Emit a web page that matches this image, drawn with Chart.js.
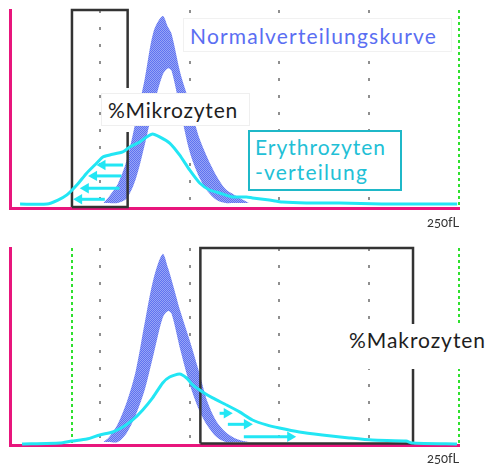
<!DOCTYPE html>
<html lang="de">
<head>
<meta charset="utf-8">
<title>Erythrozytenverteilung</title>
<script src="https://cdn.jsdelivr.net/npm/chart.js@4.4.1/dist/chart.umd.min.js"></script>
<style>
  body { margin: 0; background: #fff; font-family: 'Lato', 'Open Sans', sans-serif; }
  #wrap { position: relative; width: 487px; height: 466px; overflow: hidden; }
  canvas { position: absolute; left: 0; }
  #topChart { top: 0; }
  #bottomChart { top: 233px; }
  .box { position: absolute; background: #fff; box-sizing: border-box; white-space: nowrap; font-size: 21px; }
  .box span { display: inline-block; }
  .norm { left: 183px; top: 18px; width: 269px; height: 34px; border: 1px solid #f1f1f1; color: #5a6ef2; padding-left: 6px; line-height: 33px; }
  .mikro { left: 101px; top: 93px; width: 149px; height: 33px; border: 1px solid #efefef; color: #1e1e1e; padding-left: 6px; line-height: 31px; }
  .gap { left: 125px; top: 88px; width: 6px; height: 44px; }
  .ery { left: 248px; top: 130px; width: 154px; height: 61px; border: 2px solid #1fb8c8; color: #22c0d6; padding: 2px 0 0 5px; line-height: 25px; }
  .makro { left: 345px; top: 324px; width: 142px; height: 45px; color: #1e1e1e; padding-left: 4px; line-height: 32px; }
  .unit { position: absolute; font-size: 13px; color: #333; line-height: 15px; font-variant-numeric: oldstyle-nums; }
</style>
</head>
<body>
<div id="wrap">
  <canvas id="topChart" width="487" height="233"></canvas>
  <canvas id="bottomChart" width="487" height="233"></canvas>

  <div class="box norm"><span data-fit="247">Normalverteilungskurve</span></div>
  <div class="box gap"></div>
  <div class="box mikro"><span data-fit="130">%Mikrozyten</span></div>
  <div class="box ery"><span data-fit="131">Erythrozyten</span><br><span data-fit="113">-verteilung</span></div>
  <div class="unit" style="left:427px; top:215px;">250fL</div>

  <div class="box makro"><span data-fit="137">%Makrozyten</span></div>
  <div class="unit" style="left:427px; top:451px;">250fL</div>
</div>
<script>
// x axis in fL (0-250), y axis relative frequency (0-100)
const gridFl = [50, 100, 150, 200];
const topLimitFl = [250];
const bottomLimitFl = [34.5, 250];

// reference band (normal distribution range)
const bandFl = [52, 55, 60, 65, 70, 75, 80, 85, 88, 90, 95, 100, 105, 110, 115, 120, 125, 130, 133];
const topBandUpper = [2.5, 5.6, 12.1, 24.2, 44, 65.2, 89.4, 97, 91.4, 87.9, 67.7, 53, 36.4, 25.3, 16.2, 9.6, 6.6, 4, 2.5];
const topBandLower = [2.5, 2.5, 2.5, 4.8, 14.5, 31.8, 51.5, 67.2, 70.6, 69.2, 48.5, 28.5, 16.2, 8.4, 4, 2.5, 2.5, 2.5, 2.5];
const bottomBandUpper = [1.5, 3.8, 10.7, 21.8, 37.6, 62, 84.8, 97, 89.8, 83.8, 67.5, 53.3, 38, 21.8, 11.9, 6.6, 3.6, 2, 1.5];
const bottomBandLower = [1.5, 1.5, 1.5, 6.1, 15.2, 27.9, 46.2, 64.5, 68, 66.5, 47.7, 31, 18.3, 9.6, 4, 1.5, 1.5, 1.5, 1.5];

// measured erythrocyte distribution
const topCurveFl = [5.6, 20.6, 26.7, 31.7, 37.2, 42.8, 48.3, 51.7, 55.6, 62.8, 66.7, 72.2, 76.1, 79.4, 83.3, 88.9, 94.4, 100, 105.6, 111.1, 116.7, 123.9, 131.7, 135, 144.4, 151.7, 165, 183.3, 207, 249];
const topCurveCount = [2, 2, 4, 6.6, 11.6, 17.7, 22.7, 25.8, 26.8, 28.3, 30.8, 33.3, 35.9, 37.4, 35.9, 32.8, 26.8, 19.2, 12.6, 9.1, 7.6, 5.6, 5.6, 5.1, 4, 3, 2.5, 2.5, 2, 2];
const bottomCurveFl = [6.7, 27.8, 34.4, 42.8, 50, 57.2, 62.8, 68.3, 73.9, 79.4, 85, 88.9, 94.4, 98.3, 101.7, 107.2, 112.8, 120.6, 127.8, 135, 142.8, 150, 161.1, 173.9, 188.9, 201.7, 220.6, 223.9, 248.9];
const bottomCurveCount = [0.5, 1, 2, 3, 5.1, 6.6, 9.1, 12.7, 17.8, 23.9, 31.5, 34.5, 36, 34, 30.5, 26.9, 23.9, 20.3, 16.8, 12.7, 10.2, 8.6, 6.6, 5.1, 3.6, 2.5, 2, 1, 0.5];

// gates
const microGateFl = [34.5, 65.5];
const macroGateFl = [106, 224.4];
const gateTop = 100;
const microGateBase = 0.5;
const macroGateBase = 0.8;

// arrows
const microArrowTail = [63, 62, 61, 52.8];
const microArrowHead = [51.5, 46.8, 42.2, 38.5];
const microArrowLevel = [21.7, 16.2, 10, 4.4];
const macroArrowTail = [116.7, 121.3, 130.2];
const macroArrowHead = [120.7, 131.9, 156];
const macroArrowLevel = [16.1, 10.5, 4.2];

const PINK = '#e8157c';
const CYAN = '#22e6f4';
const GREEN = '#2fe02f';
const GRID = '#8f8f8f';

function pairs(xs, ys) {
    return xs.map((x, i) => ({ x: x, y: ys[i] }));
}

function makeHatch() {
    const c = document.createElement('canvas');
    c.width = 2;
    c.height = 2;
    const g = c.getContext('2d');
    g.fillStyle = '#97a4f6';
    g.fillRect(0, 0, 2, 2);
    g.fillStyle = '#5f73f0';
    g.fillRect(0, 0, 1, 1);
    g.fillRect(1, 1, 1, 1);
    return g.createPattern(c, 'repeat');
}

function arrowSets(tails, heads, levels, rotation) {
    return tails.map((t, i) => ({
        data: [{ x: t, y: levels[i] }, { x: heads[i], y: levels[i] }],
        showLine: true,
        borderColor: CYAN,
        borderWidth: 3,
        pointRadius: [0, 6],
        pointStyle: 'triangle',
        pointRotation: rotation,
        pointBackgroundColor: CYAN,
        pointBorderWidth: 0,
        clip: false,
    }));
}

function gateSet(gate, base) {
    return {
        data: [
            { x: gate[0], y: base }, { x: gate[0], y: gateTop },
            { x: gate[1], y: gateTop }, { x: gate[1], y: base }, { x: gate[0], y: base },
        ],
        showLine: true,
        borderColor: '#333333',
        borderWidth: 2.5,
        pointRadius: 0,
        clip: false,
    };
}

function buildPanel(id, cfg) {
    const datasets = [
        {
            data: pairs(cfg.curveFl, cfg.curveCount),
            showLine: true,
            borderColor: CYAN,
            borderWidth: 3,
            pointRadius: 0,
            tension: 0.2,
            clip: false,
        },
        ...arrowSets(cfg.arrowTail, cfg.arrowHead, cfg.arrowLevel, cfg.arrowRotation),
        gateSet(cfg.gate, cfg.gateBase),
        {
            data: pairs(bandFl, cfg.bandLower),
            showLine: true,
            borderColor: 'rgba(0,0,0,0)',
            borderWidth: 1,
            pointRadius: 0,
            tension: 0.3,
        },
        {
            data: pairs(bandFl, cfg.bandUpper),
            showLine: true,
            borderColor: 'rgba(0,0,0,0)',
            borderWidth: 1,
            pointRadius: 0,
            tension: 0.3,
            fill: '-1',
            backgroundColor: makeHatch(),
        },
    ];

    return new Chart(document.getElementById(id), {
        type: 'scatter',
        data: { datasets: datasets },
        options: {
            responsive: false,
            animation: false,
            events: [],
            layout: { autoPadding: false, padding: cfg.padding },
            plugins: { legend: { display: false }, tooltip: { enabled: false } },
            scales: {
                x: {
                    type: 'linear', min: 0, max: 250,
                    ticks: { display: false },
                    grid: { color: GRID, lineWidth: 2, drawTicks: false },
                    border: { display: true, color: PINK, width: 3, dash: [3, 14] },
                    afterBuildTicks: (axis) => { axis.ticks = gridFl.map((v) => ({ value: v })); },
                },
                x2: {
                    type: 'linear', axis: 'x', position: 'bottom', min: 0, max: 250,
                    ticks: { display: false },
                    grid: { color: GREEN, lineWidth: 2, drawTicks: false },
                    border: { display: false, dash: [3, 3] },
                    afterBuildTicks: (axis) => { axis.ticks = cfg.limits.map((v) => ({ value: v })); },
                },
                y: {
                    min: 0, max: 100,
                    ticks: { display: false },
                    grid: { display: false, drawTicks: false },
                    border: { display: true, color: PINK, width: 3 },
                },
            },
        },
    });
}

document.querySelectorAll('[data-fit]').forEach((el) => {
    const target = Number(el.dataset.fit);
    const w = el.getBoundingClientRect().width;
    el.style.letterSpacing = ((target - w) / el.textContent.length) + 'px';
});

buildPanel('topChart', {
    curveFl: topCurveFl, curveCount: topCurveCount,
    bandUpper: topBandUpper, bandLower: topBandLower,
    gate: microGateFl, gateBase: microGateBase,
    arrowTail: microArrowTail, arrowHead: microArrowHead, arrowLevel: microArrowLevel, arrowRotation: -90,
    limits: topLimitFl,
    padding: { left: 10, right: 28, top: 10, bottom: 25 },
});

buildPanel('bottomChart', {
    curveFl: bottomCurveFl, curveCount: bottomCurveCount,
    bandUpper: bottomBandUpper, bandLower: bottomBandLower,
    gate: macroGateFl, gateBase: macroGateBase,
    arrowTail: macroArrowTail, arrowHead: macroArrowHead, arrowLevel: macroArrowLevel, arrowRotation: 90,
    limits: bottomLimitFl,
    padding: { left: 10, right: 28, top: 15, bottom: 21 },
});
</script>
</body>
</html>
